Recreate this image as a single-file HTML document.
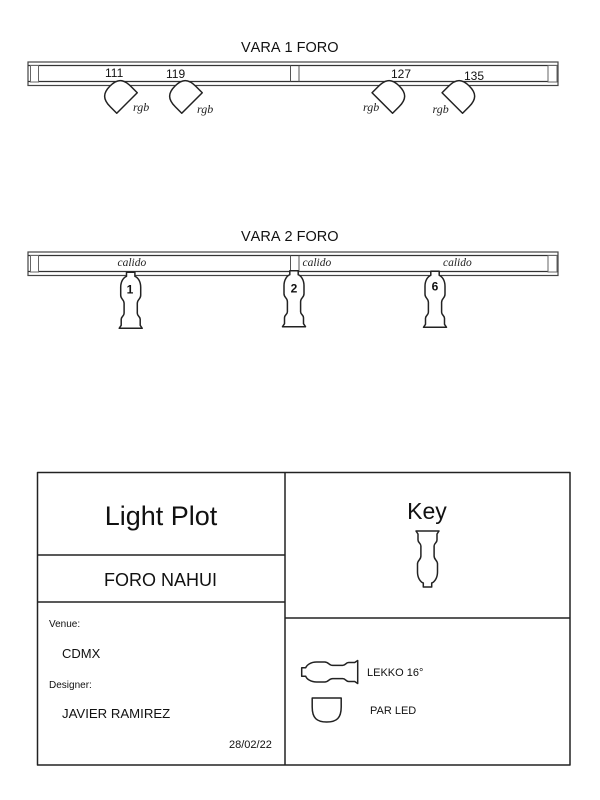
<!DOCTYPE html>
<html>
<head>
<meta charset="utf-8">
<style>
html,body{margin:0;padding:0;background:#fff;width:600px;height:800px;overflow:hidden}
svg{display:block}
text{font-family:"Liberation Sans",sans-serif;fill:#111}
.i{font-family:"Liberation Serif",serif;font-style:italic;fill:#222}
.t{font-kerning:none}
.s{fill:none;stroke:#222;stroke-width:1.5;stroke-linejoin:round}
.l{fill:none;stroke:#555;stroke-width:1}
.d{fill:none;stroke:#333;stroke-width:1.2}
</style>
</head>
<body>
<svg width="600" height="800" viewBox="0 0 600 800" xmlns="http://www.w3.org/2000/svg">
<defs>
<path id="par" d="M-14.5,0 L14.5,0 L14.5,9 C14.5,20 10,24 0,24 C-10,24 -14.5,20 -14.5,9 Z" fill="#fff" stroke="#222" stroke-width="1.5" stroke-linejoin="round"/>
<path id="lamp" d="M-4.2,0 L4.2,0 L4.2,4 C7,5 10,9 10,15 L10,23 C10,27 6.6,27 6.6,31 L6.6,41 C6.6,44 9.5,44 9.5,47 L9.5,53 L11.5,56 L-11.5,56 L-9.5,53 L-9.5,47 C-9.5,44 -6.6,44 -6.6,41 L-6.6,31 C-6.6,27 -10,27 -10,23 L-10,15 C-10,9 -7,5 -4.2,4 Z" fill="#fff" stroke="#222" stroke-width="1.5" stroke-linejoin="round"/>
<g id="bar">
<rect x="28" y="0" width="530" height="23.5" fill="#fff" stroke="#444" stroke-width="1.2"/>
<path d="M28,3.5 H558 M28,19.5 H558" class="d"/>
<rect x="30.5" y="3.5" width="8" height="16.5" fill="#fff" stroke="#666" stroke-width="1"/>
<rect x="548" y="3.5" width="9" height="16.5" fill="#fff" stroke="#666" stroke-width="1"/>
<path d="M290.5,3.5 V19.5 M299,3.5 V19.5" class="l"/>
</g>
</defs>

<text class="t" x="241" y="52" font-size="14.5">VARA 1 FORO</text>
<use href="#bar" x="0" y="62"/>
<use href="#par" transform="translate(127,103) rotate(135)"/>
<use href="#par" transform="translate(192,103) rotate(135)"/>
<use href="#par" transform="translate(382.3,103) rotate(-135)"/>
<use href="#par" transform="translate(452.3,103) rotate(-135)"/>
<text x="105" y="77" font-size="12">111</text>
<text x="166" y="78" font-size="12">119</text>
<text x="391" y="78" font-size="12">127</text>
<text x="464" y="80" font-size="12">135</text>
<text class="i" x="133" y="111" font-size="12">rgb</text>
<text class="i" x="197" y="113" font-size="12">rgb</text>
<text class="i" x="363" y="111" font-size="12">rgb</text>
<text class="i" x="432.5" y="113" font-size="12">rgb</text>

<text class="t" x="241" y="241" font-size="14.5">VARA 2 FORO</text>
<use href="#bar" x="0" y="252"/>
<use href="#lamp" transform="translate(130.7,272.3)"/>
<use href="#lamp" transform="translate(294,270.7)"/>
<use href="#lamp" transform="translate(435,271.3)"/>
<text class="i" x="117.5" y="266" font-size="11.5">calido</text>
<text class="i" x="302.5" y="266" font-size="11.5">calido</text>
<text class="i" x="443" y="266" font-size="11.5">calido</text>
<text x="130" y="293.5" font-size="12" font-weight="bold" text-anchor="middle">1</text>
<text x="294" y="292.5" font-size="12" font-weight="bold" text-anchor="middle">2</text>
<text x="435" y="290.7" font-size="12" font-weight="bold" text-anchor="middle">6</text>

<rect x="37.5" y="472.5" width="532.5" height="292.5" class="s"/>
<path d="M285,472.5 V765 M37.5,555 H285 M37.5,602 H285 M285,618 H570" class="s"/>

<text x="161" y="525" font-size="27" text-anchor="middle">Light Plot</text>
<text x="160.5" y="586" font-size="18" text-anchor="middle">FORO NAHUI</text>
<text x="427" y="519" font-size="23" text-anchor="middle">Key</text>
<use href="#lamp" transform="translate(427.5,587) scale(1,-1)"/>

<text x="49" y="627" font-size="10">Venue:</text>
<text x="62" y="658" font-size="13">CDMX</text>
<text x="49" y="688" font-size="10">Designer:</text>
<text x="62" y="718" font-size="13.2">JAVIER RAMIREZ</text>
<text x="229" y="748" font-size="11">28/02/22</text>

<use href="#lamp" transform="translate(301.7,672) rotate(-90)"/>
<use href="#par" transform="translate(326.7,698)"/>
<text x="367" y="676" font-size="11">LEKKO 16°</text>
<text x="370" y="714" font-size="11">PAR LED</text>
</svg>
</body>
</html>
